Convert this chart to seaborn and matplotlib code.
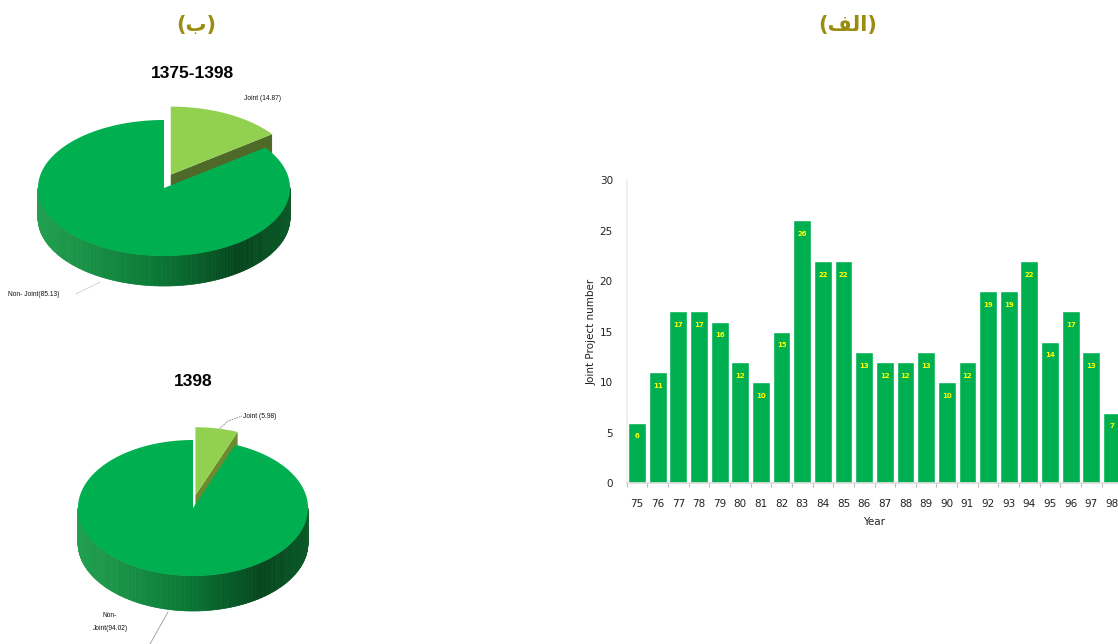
import numpy as np
import matplotlib
matplotlib.use("Agg")
import matplotlib.pyplot as plt
from matplotlib.colors import LinearSegmentedColormap
from matplotlib.collections import PolyCollection
from matplotlib.patches import Polygon
import seaborn as sns
import pandas as pd

# ---- data ----
years = ["75", "76", "77", "78", "79", "80", "81", "82", "83", "84", "85", "86",
         "87", "88", "89", "90", "91", "92", "93", "94", "95", "96", "97", "98"]
joint_projects = [6, 11, 17, 17, 16, 12, 10, 15, 26, 22, 22, 13,
                  12, 12, 13, 10, 12, 19, 19, 22, 14, 17, 13, 7]

pie_all_title = "1375-1398"
pie_all_labels = ["Joint (14.87)", "Non- Joint(85.13)"]
pie_all_values = [14.87, 85.13]

pie_last_title = "1398"
pie_last_labels = ["Joint (5.98)", "Non-\nJoint(94.02)"]
pie_last_values = [5.98, 94.02]

heading_left = "(\uFE8F)"                 # (ب)
heading_right = "(\uFED2\uFEDF\uFE8D)"    # (الف) in display order

# ---- style ----
sns.set_theme(style="white")
plt.rcParams["font.family"] = ["DejaVu Sans"]

GREEN = "#00B050"
LIGHT = "#92D050"
OLIVE = "#9B8C0E"

W, H = 1118, 644
fig = plt.figure(figsize=(W / 100, H / 100), dpi=100)

# ---- bar chart ----
slot = 20.65
left_px, bottom_px, top_px = 626.7, 483.3, 180.0
ax = fig.add_axes([left_px / W, 1 - bottom_px / H,
                   len(years) * slot / W, (bottom_px - top_px) / H])
df = pd.DataFrame({"Year": years, "Joint Project number": joint_projects})
sns.barplot(data=df, x="Year", y="Joint Project number", color=GREEN,
            saturation=1, width=0.86, ax=ax)
ax.set_xlim(-0.5, len(years) - 0.5)
ax.set_ylim(0, 30)
ax.set_yticks(range(0, 31, 5))
ax.tick_params(axis="y", length=0, pad=10, labelsize=7.5, labelcolor="#222222")
ax.tick_params(axis="x", length=0, pad=11, labelsize=7.5, labelcolor="#222222")
ax.set_xticks(np.arange(-0.5, len(years), 1.0), minor=True)
ax.tick_params(axis="x", which="minor", length=3, color="#bbbbbb", width=0.8, bottom=True)
ax.set_xlabel("Year", fontsize=7.5, color="#222222", labelpad=6)
ax.set_ylabel("Joint Project number", fontsize=7.5, color="#222222", labelpad=2)
for side in ["top", "right"]:
    ax.spines[side].set_visible(False)
ax.spines["left"].set_color("#eeeeee")
ax.spines["bottom"].set_color("#dddddd")
for cont in ax.containers:
    ax.bar_label(cont, labels=[str(v) for v in joint_projects], padding=-12,
                 color="#FFFF00", fontsize=5, fontweight="bold")

# ---- 3D pies drawn in pixel space ----
pax = fig.add_axes([0, 0, 0.5, 1])
pax.set_xlim(0, W / 2)
pax.set_ylim(H, 0)
pax.axis("off")
pax.set_facecolor("none")

wall_cmap = LinearSegmentedColormap.from_list(
    "wall", [(0.0, "#22A050"), (0.45, "#0A7A36"), (0.8, "#04441C"), (1.0, "#0B5A28")])


def pt(cx, cy, rx, ry, t):
    return cx + rx * np.cos(t), cy - ry * np.sin(t)


def pie3d(values, cx, cy, rx, ry, depth, top_colors, cut_colors, explode):
    total = float(sum(values))
    start = 90.0
    slices = []
    acc = 0.0
    for i, v in enumerate(values):
        a1 = np.radians(start - acc / total * 360)
        a2 = np.radians(start - (acc + v) / total * 360)
        acc += v
        mid = (a1 + a2) / 2
        dx = explode[i] * np.cos(mid)
        dy = -explode[i] * np.sin(mid)
        slices.append((a1, a2, mid, dx, dy, i))
    # back slices first
    slices.sort(key=lambda s: -np.sin(s[2]))
    for a1, a2, mid, dx, dy, i in slices:
        ox, oy = cx + dx, cy + dy
        # visible radial cut face at the clockwise end
        ex, ey = pt(ox, oy, rx, ry, a2)
        if np.cos(a2) > 0 and explode[i] > 0:
            pax.add_patch(Polygon([(ox, oy), (ex, ey), (ex, ey + depth), (ox, oy + depth)],
                                  closed=True, fc=cut_colors[i], ec="none", zorder=2))
        # outer wall on the front half
        ts = np.linspace(a1, a2, 400)
        quads, cols = [], []
        for t0, t1 in zip(ts[:-1], ts[1:]):
            if np.sin((t0 + t1) / 2) >= 0:
                continue
            x0, y0 = pt(ox, oy, rx, ry, t0)
            x1, y1 = pt(ox, oy, rx, ry, t1)
            quads.append([(x0, y0), (x1, y1), (x1, y1 + depth), (x0, y0 + depth)])
            u = ((x0 + x1) / 2 - (ox - rx)) / (2 * rx)
            cols.append(wall_cmap(u))
        if quads:
            pax.add_collection(PolyCollection(quads, facecolors=cols, edgecolors=cols,
                                              linewidths=0.5, zorder=2))
        # top face
        xs, ys = pt(ox, oy, rx, ry, ts)
        verts = [(ox, oy)] + list(zip(xs, ys))
        pax.add_patch(Polygon(verts, closed=True, fc=top_colors[i], ec="none", zorder=3))


pie3d(pie_all_values, cx=164, cy=188, rx=126, ry=68, depth=30,
      top_colors=[LIGHT, GREEN], cut_colors=["#4F6A28", GREEN], explode=[15, 0])
pie3d(pie_last_values, cx=193, cy=508, rx=115, ry=68, depth=35,
      top_colors=[LIGHT, GREEN], cut_colors=["#6E8A2E", GREEN], explode=[13, 0])

# pie titles
fs_title = dict(fontsize=12.5, fontweight="bold", color="black",
                ha="center", va="center", family="Liberation Sans")
pax.text(192, 73, pie_all_title, **fs_title)
pax.text(193, 381, pie_last_title, **fs_title)

# slice labels with leader lines
lab = dict(fontsize=4.8, color="#111111", family="Liberation Sans")
pax.text(244, 98, pie_all_labels[0], va="center", ha="left", **lab)
pax.text(8, 294, pie_all_labels[1], va="center", ha="left", **lab)
pax.plot([76, 100], [294, 282], color="#cccccc", lw=0.6, zorder=1)
pax.text(243, 416, pie_last_labels[0], va="center", ha="left", **lab)
pax.plot([218, 228, 242], [430, 421, 416], color="#888888", lw=0.6, ls=(0, (2, 1)), zorder=1)
pax.text(110, 622, pie_last_labels[1], va="center", ha="center", linespacing=2.3, **lab)
pax.plot([168, 150], [612, 644], color="#999999", lw=0.6, zorder=1)

# panel headings
fig.text(196 / W, 1 - 25 / H, heading_left, fontsize=15, fontweight="bold",
         color=OLIVE, ha="center", va="center")
fig.text(848 / W, 1 - 25 / H, heading_right, fontsize=15, fontweight="bold",
         color=OLIVE, ha="center", va="center")

fig.savefig("out.png", dpi=100, facecolor="white")
